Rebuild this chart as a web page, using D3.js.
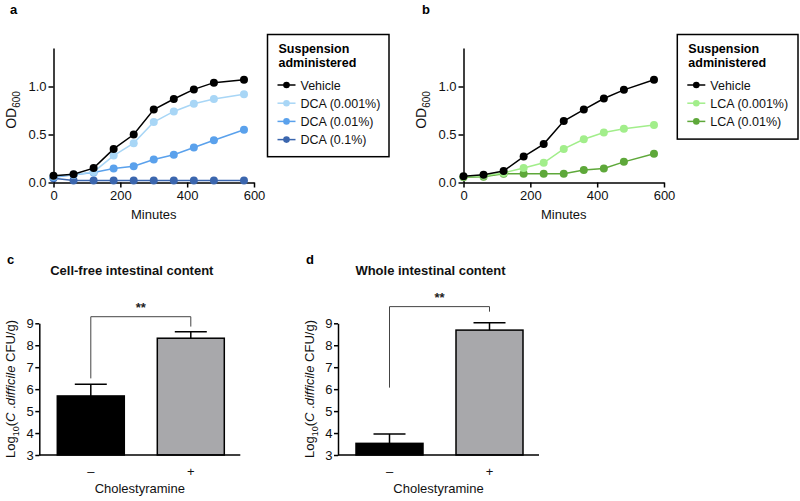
<!DOCTYPE html>
<html><head><meta charset="utf-8">
<script src="https://cdn.jsdelivr.net/npm/d3@7"></script>
<style>
body{margin:0;background:#fff;}
svg{display:block;font-family:"Liberation Sans",Arial,Helvetica,sans-serif;}
</style></head>
<body>
<svg id="chart" width="800" height="501"></svg>
<script>
// ---------- DATA ----------
const minutes = [0, 60, 120, 180, 240, 300, 360, 420, 480, 570];
const xTicksTop = [0, 200, 400, 600];
const yTicksTop = [0, 0.5, 1.0];

const seriesNamesA = ["Vehicle", "DCA (0.001%)", "DCA (0.01%)", "DCA (0.1%)"];
const vehicleA = [0.07, 0.085, 0.15, 0.35, 0.50, 0.76, 0.87, 0.97, 1.04, 1.07];
const dca0001 = [0.065, 0.08, 0.11, 0.28, 0.41, 0.63, 0.74, 0.82, 0.87, 0.92];
const dca001 = [0.055, 0.08, 0.105, 0.145, 0.17, 0.24, 0.29, 0.365, 0.44, 0.55];
const dca01 = [0.045, 0.02, 0.02, 0.02, 0.02, 0.02, 0.02, 0.02, 0.02, 0.02];

const seriesNamesB = ["Vehicle", "LCA (0.001%)", "LCA (0.01%)"];
const vehicleB = [0.065, 0.08, 0.12, 0.27, 0.40, 0.64, 0.76, 0.875, 0.965, 1.07];
const lca0001 = [0.06, 0.07, 0.10, 0.15, 0.205, 0.35, 0.45, 0.52, 0.56, 0.60];
const lca001 = [0.055, 0.06, 0.09, 0.09, 0.09, 0.09, 0.13, 0.145, 0.215, 0.30];

const barCategories = ["–", "+"];
const yTicksBottom = [3, 4, 5, 6, 7, 8, 9];
const cellFreeMean = [5.69, 8.32];
const cellFreeErr = [6.22, 8.62];
const wholeMean = [3.53, 8.69];
const wholeErr = [3.96, 9.02];
// significance bracket: [level, left leg end, right leg end]
const bracketC = [9.30, 6.49, 8.85];
const bracketD = [9.76, 6.07, 9.53];
const sigLabel = "**";

// ---------- STYLE ----------
const colorsA = ["#000000", "#a8d6f6", "#5aa1ec", "#3b66ae"];
const colorsB = ["#000000", "#a2ee8b", "#5ea83a"];
const barColors = ["#000000", "#a8a8ab"];

const svg = d3.select("#chart");

function drawLinePanel(cfg) {
  const x = d3.scaleLinear().domain([0, 600]).range([cfg.x0, cfg.x0 + 200.5]);
  const y = d3.scaleLinear().domain([0, 1.4]).range([182.5, 182.5 - 134.4]);
  const g = svg.append("g");
  const xa = g.append("g").attr("transform", "translate(0,182.5)")
    .call(d3.axisBottom(x).tickValues(xTicksTop).tickSize(5).tickSizeOuter(0).tickPadding(3).tickFormat(d3.format("d")));
  const ya = g.append("g").attr("transform", `translate(${cfg.x0},0)`)
    .call(d3.axisLeft(y).tickValues(yTicksTop).tickSize(5).tickSizeOuter(0).tickPadding(2).tickFormat(d3.format(".1f")));
  [xa, ya].forEach(a => {
    a.selectAll("path,line").attr("stroke", "#000").attr("stroke-width", 1.5);
    a.selectAll("text").attr("font-size", 13).attr("fill", "#111").attr("font-family", "Liberation Sans, Arial, sans-serif");
  });
  // series, drawn in reverse so first sits on top
  const line = d3.line().x((d, i) => x(minutes[i])).y(d => y(d));
  for (let s = cfg.series.length - 1; s >= 0; s--) {
    const vals = cfg.series[s];
    g.append("path").attr("d", line(vals)).attr("fill", "none")
      .attr("stroke", cfg.colors[s]).attr("stroke-width", 1.5);
    g.selectAll(null).data(vals).enter().append("circle")
      .attr("cx", (d, i) => x(minutes[i])).attr("cy", d => y(d)).attr("r", 4)
      .attr("fill", cfg.colors[s]);
  }
  // axis titles
  g.append("text").attr("x", (x(0) + x(600)) / 2).attr("y", 218.5)
    .attr("text-anchor", "middle").attr("font-size", 13).attr("fill", "#111").text("Minutes");
  const yl = g.append("text").attr("transform", `translate(${cfg.x0 - 38},110) rotate(-90)`)
    .attr("text-anchor", "middle").attr("font-size", 14).attr("fill", "#111");
  yl.append("tspan").text("OD");
  yl.append("tspan").attr("font-size", 10).attr("dy", 4).text("600");
  // panel letter
  g.append("text").attr("x", cfg.letterX).attr("y", 14).attr("font-size", 13)
    .attr("font-weight", "bold").text(cfg.letter);
  // legend
  const L = cfg.legend;
  g.append("rect").attr("x", L.x).attr("y", 34.5).attr("width", L.w).attr("height", L.h)
    .attr("fill", "#fff").attr("stroke", "#000").attr("stroke-width", 1.5);
  g.append("text").attr("x", L.x + 11).attr("y", 53.3).attr("font-size", 12.5).attr("font-weight", "bold").text("Suspension");
  g.append("text").attr("x", L.x + 11).attr("y", 66.7).attr("font-size", 12.5).attr("font-weight", "bold").text("administered");
  cfg.names.forEach((n, i) => {
    const cy = 85 + i * 18.2;
    g.append("line").attr("x1", L.x + 10).attr("x2", L.x + 28).attr("y1", cy).attr("y2", cy)
      .attr("stroke", cfg.colors[i]).attr("stroke-width", 1.5);
    g.append("circle").attr("cx", L.x + 19).attr("cy", cy).attr("r", 3.3).attr("fill", cfg.colors[i]);
    g.append("text").attr("x", L.x + 33).attr("y", cy + 4.5).attr("font-size", 12.5).attr("fill", "#111").text(n);
  });
}

drawLinePanel({x0: 53.5, letter: "a", letterX: 10, series: [vehicleA, dca0001, dca001, dca01],
  colors: colorsA, names: seriesNamesA, legend: {x: 267.5, w: 121.5, h: 122.2}});
drawLinePanel({x0: 463.5, letter: "b", letterX: 422, series: [vehicleB, lca0001, lca001],
  colors: colorsB, names: seriesNamesB, legend: {x: 677.3, w: 120.7, h: 104.6}});

function drawBarPanel(cfg) {
  const g = svg.append("g");
  const y = d3.scaleLinear().domain([3, 9]).range([455, 323.3]);
  const x = d3.scaleBand().domain(barCategories).range([cfg.x0 + 1.5, cfg.x0 + 201.5])
    .paddingInner(0.33).paddingOuter(0.165);
  // bars
  g.selectAll(null).data(cfg.mean).enter().append("rect")
    .attr("x", (d, i) => x(barCategories[i])).attr("width", x.bandwidth())
    .attr("y", d => y(d)).attr("height", d => y(3) - y(d))
    .attr("fill", (d, i) => barColors[i]).attr("stroke", "#000").attr("stroke-width", 1.5);
  // error bars
  cfg.err.forEach((e, i) => {
    const cx = x(barCategories[i]) + x.bandwidth() / 2;
    g.append("line").attr("x1", cx).attr("x2", cx).attr("y1", y(cfg.mean[i])).attr("y2", y(e))
      .attr("stroke", "#000").attr("stroke-width", 1.5);
    g.append("line").attr("x1", cx - 16).attr("x2", cx + 16).attr("y1", y(e)).attr("y2", y(e))
      .attr("stroke", "#000").attr("stroke-width", 1.5);
  });
  // axes
  const xa = g.append("g").attr("transform", "translate(0,455)")
    .call(d3.axisBottom(x).tickSize(0).tickPadding(12));
  xa.select("path").attr("d", `M${cfg.x0},0H${cfg.x0 + 201}`);
  const ya = g.append("g").attr("transform", `translate(${cfg.x0},0)`)
    .call(d3.axisLeft(y).tickValues(yTicksBottom).tickSize(4).tickSizeOuter(0).tickPadding(1.5).tickFormat(d3.format("d")));
  [xa, ya].forEach(a => {
    a.selectAll("path,line").attr("stroke", "#000").attr("stroke-width", 1.5);
    a.selectAll("text").attr("font-size", 13).attr("fill", "#111").attr("font-family", "Liberation Sans, Arial, sans-serif");
  });
  // bracket
  const b = cfg.bracket;
  const c0 = x(barCategories[0]) + x.bandwidth() / 2, c1 = x(barCategories[1]) + x.bandwidth() / 2;
  g.append("path").attr("d", `M${c0},${y(b[1])}V${y(b[0])}H${c1}V${y(b[2])}`)
    .attr("fill", "none").attr("stroke", "#444").attr("stroke-width", 1);
  g.append("text").attr("x", (c0 + c1) / 2).attr("y", y(b[0]) - 5).attr("text-anchor", "middle")
    .attr("font-size", 13).attr("font-weight", "bold").attr("fill", "#222").text(sigLabel);
  // titles
  const mid = cfg.x0 + 100.5;
  g.append("text").attr("x", mid).attr("y", 493).attr("text-anchor", "middle")
    .attr("font-size", 13).attr("fill", "#111").text("Cholestyramine");
  g.append("text").attr("x", mid - 8).attr("y", 275).attr("text-anchor", "middle")
    .attr("font-size", 13).attr("font-weight", "bold").attr("fill", "#111").text(cfg.title);
  g.append("text").attr("x", cfg.letterX).attr("y", 264).attr("font-size", 13)
    .attr("font-weight", "bold").text(cfg.letter);
  const yl = g.append("text").attr("transform", `translate(${cfg.x0 - 24},389) rotate(-90)`)
    .attr("text-anchor", "middle").attr("font-size", 13).attr("fill", "#111");
  yl.append("tspan").text("Log");
  yl.append("tspan").attr("font-size", 9).attr("dy", 3.5).text("10");
  yl.append("tspan").attr("dy", -3.5).text("(");
  yl.append("tspan").attr("font-style", "italic").text("C");
  yl.append("tspan").text(" .");
  yl.append("tspan").attr("font-style", "italic").text("difficile");
  yl.append("tspan").text(" CFU/g)");
}

drawBarPanel({x0: 39.3, mean: cellFreeMean, err: cellFreeErr, bracket: bracketC,
  title: "Cell-free intestinal content", letter: "c", letterX: 7});
drawBarPanel({x0: 338, mean: wholeMean, err: wholeErr, bracket: bracketD,
  title: "Whole intestinal content", letter: "d", letterX: 306});
</script>
</body></html>
